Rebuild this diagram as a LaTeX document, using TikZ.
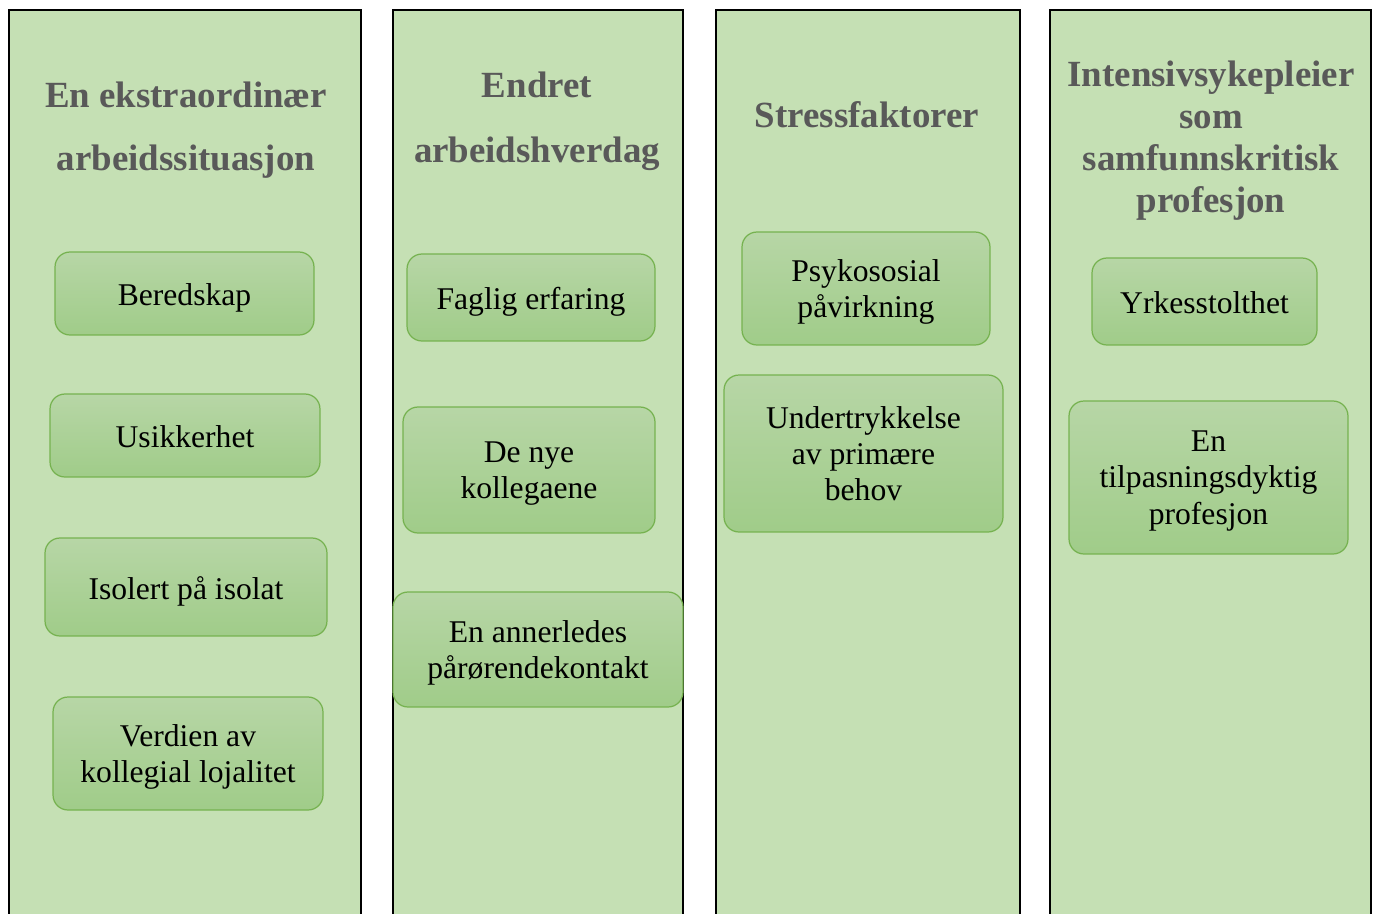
\documentclass[tikz,border=0pt]{standalone}
\usepackage{fontspec}
\setmainfont{Liberation Serif}
\usepackage{xcolor}
\usepackage{tikz}
\usetikzlibrary{positioning}
\definecolor{ColFill}{RGB}{197, 224, 180}
\definecolor{BoxTop}{RGB}{183, 214, 166}
\definecolor{BoxBottom}{RGB}{160, 204, 137}
\definecolor{BoxBorder}{RGB}{118, 178, 80}
\definecolor{HeadGray}{RGB}{89, 89, 89}
\tikzset{
  colline/.style={draw=black, line width=1.1pt},
  colhead/.style={align=center, text=HeadGray, inner sep=0pt},
  themebox/.style={
    rounded corners=8.5pt, draw=BoxBorder, line width=0.7pt,
    top color=BoxTop, bottom color=BoxBottom, align=center,
    inner sep=2pt, font=\fontsize{18}{20.7}\selectfont
  },
  oneline/.style={themebox, text height=14pt, text depth=0pt},
  multiline/.style={themebox, text depth=-2.5pt}
}

\begin{document}
\begin{tikzpicture}[x=0.02cm, y=-0.02cm]
    \useasboundingbox (0,0) rectangle (1376,913);

    % columns, open at the bottom
    \fill[ColFill] (9,10) rectangle (361,920);
    \draw[colline] (9,920) -- (9,10) -- (361,10) -- (361,920);
    \fill[ColFill] (393,10) rectangle (683,920);
    \draw[colline] (393,920) -- (393,10) -- (683,10) -- (683,920);
    \fill[ColFill] (716,10) rectangle (1020,920);
    \draw[colline] (716,920) -- (716,10) -- (1020,10) -- (1020,920);
    \fill[ColFill] (1050,10) rectangle (1371,920);
    \draw[colline] (1050,920) -- (1050,10) -- (1371,10) -- (1371,920);

    % headings
    \node[colhead, font=\bfseries\fontsize{21}{36}\selectfont] (headA) at (186,130) {En ekstraordinær\\arbeidssituasjon};
    \node[colhead, font=\bfseries\fontsize{21}{37}\selectfont] (headB) at (537,121) {Endret\\arbeidshverdag};
    \node[colhead, font=\bfseries\fontsize{21}{24}\selectfont] (headC) at (867,115) {Stressfaktorer};
    \node[colhead, font=\bfseries\fontsize{21}{24}\selectfont] (headD) at (1211,140.5) {Intensivsykepleier\\som\\samfunnskritisk\\profesjon};

    % themes
    \node[oneline, minimum width=5.18cm, minimum height=1.66cm] (beredskap) at (184.5,293.5) {Beredskap};
    \node[oneline, minimum width=5.40cm, minimum height=1.66cm] (usikkerhet) at (185,435.5) {Usikkerhet};
    \node[oneline, minimum width=5.64cm, minimum height=1.96cm] (isolert) at (186,587) {Isolert på isolat};
    \node[multiline, minimum width=5.40cm, minimum height=2.26cm] (lojalitet) at (188,753.5) {Verdien av\\kollegial lojalitet};

    \node[oneline, minimum width=4.96cm, minimum height=1.74cm] (erfaring) at (531,297.5) {Faglig erfaring};
    \node[multiline, minimum width=5.04cm, minimum height=2.52cm] (kollegaer) at (529,470) {De nye\\kollegaene};
    \node[multiline, minimum width=5.80cm, minimum height=2.30cm] (kontakt) at (538,649.5) {En annerledes\\pårørendekontakt};

    \node[multiline, minimum width=4.96cm, minimum height=2.26cm] (psykososial) at (866,288.5) {Psykososial\\påvirkning};
    \node[multiline, minimum width=5.58cm, minimum height=3.14cm] (behov) at (863.5,453.5) {Undertrykkelse\\av primære\\behov};

    \node[oneline, minimum width=4.50cm, minimum height=1.74cm] (stolthet) at (1204.5,301.5) {Yrkesstolthet};
    \node[multiline, minimum width=5.58cm, minimum height=3.06cm] (tilpasning) at (1208.5,477.5) {En\\tilpasningsdyktig\\profesjon};
\end{tikzpicture}
\end{document}
